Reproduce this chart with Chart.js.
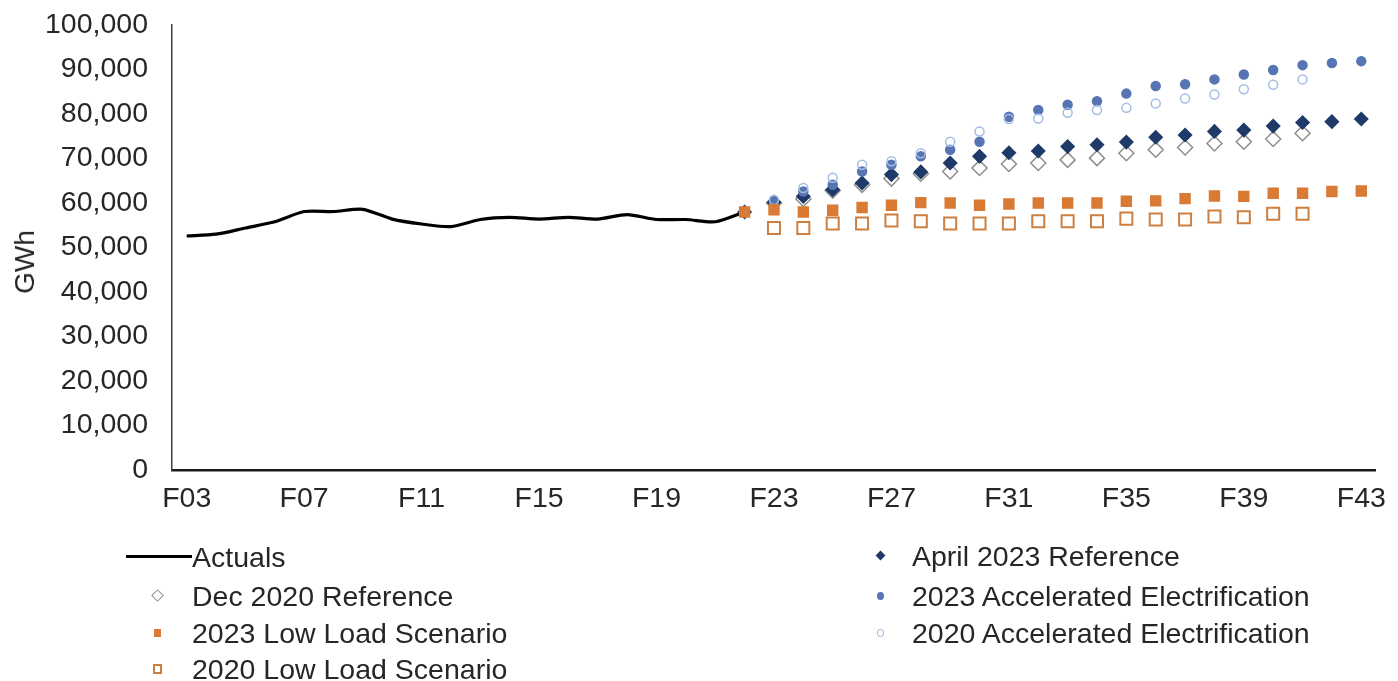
<!DOCTYPE html>
<html lang="en">
<head>
    <meta charset="UTF-8">
    <title>Load Forecast Comparison</title>
    <style>
        body {
            margin: 0;
            background: #ffffff;
            font-family: "Liberation Sans", Arial, sans-serif;
            overflow: hidden;
        }
        #wrap {
            position: relative;
            width: 1398px;
            height: 681px;
            overflow: hidden;
        }
        /* canvas is shifted up so the plot top lands at y=22 despite the tick-label overhang */
        #chart {
            position: absolute;
            left: 0;
            top: -16px;
        }
        #ytitle {
            position: absolute;
            left: 25px;
            top: 262px;
            font-size: 28px;
            color: #262626;
            transform: translate(-50%, -50%) rotate(-90deg);
            white-space: nowrap;
        }
        .item {
            position: absolute;
            height: 32px;
            line-height: 32px;
            font-size: 28.5px;
            color: #262626;
            white-space: nowrap;
        }
        .mark {
            position: absolute;
            box-sizing: border-box;
        }
    </style>
</head>
<body>
    <div id="wrap">
        <canvas id="chart" width="1398" height="697"></canvas>
        <div id="ytitle">GWh</div>
        <div id="legend"></div>
    </div>

    <script src="https://cdn.jsdelivr.net/npm/chart.js"></script>
    <script>
        const years = ['F03', 'F04', 'F05', 'F06', 'F07', 'F08', 'F09', 'F10', 'F11', 'F12',
            'F13', 'F14', 'F15', 'F16', 'F17', 'F18', 'F19', 'F20', 'F21', 'F22',
            'F23', 'F24', 'F25', 'F26', 'F27', 'F28', 'F29', 'F30', 'F31', 'F32',
            'F33', 'F34', 'F35', 'F36', 'F37', 'F38', 'F39', 'F40', 'F41', 'F42', 'F43'];

        // F03 - F22
        const actuals = [52600, 53000, 54400, 55800, 58100, 58100, 58600, 56400, 55300, 54700,
            56300, 56800, 56400, 56800, 56400, 57400, 56300, 56300, 55800, 58000];

        // F22 - F43
        const april2023Ref = [58000, 60200, 61500, 63000, 64500, 66400, 67000, 69000, 70500, 71300, 71700,
            72700, 73100, 73700, 74800, 75300, 76100, 76400, 77300, 78100, 78300, 78900];
        const ae2023 = [58000, 60500, 62600, 64100, 67100, 68600, 70500, 72000, 73800, 79400, 80900,
            82100, 82900, 84600, 86300, 86700, 87800, 88900, 89900, 91000, 91500, 91900];
        const lowLoad2023 = [58000, 58500, 58000, 58400, 59000, 59500, 60100, 60000, 59500, 59800, 60000,
            60000, 60000, 60400, 60500, 61000, 61600, 61500, 62200, 62200, 62600, 62700];

        // F23 - F41
        const dec2020Ref = [60000, 60900, 62800, 64100, 65500, 66600, 67100, 67900, 68800, 69000,
            69700, 70100, 71200, 72000, 72500, 73400, 73800, 74400, 75700];
        const ae2020 = [60700, 63400, 65700, 68600, 69400, 71200, 73800, 76100, 78900, 79000,
            80300, 80900, 81400, 82400, 83500, 84400, 85600, 86600, 87800];
        const lowLoad2020 = [54400, 54400, 55400, 55400, 56100, 55900, 55400, 55400, 55400, 55900,
            55900, 55900, 56500, 56300, 56300, 57000, 56800, 57600, 57600];

        // place a series on the full F03-F43 axis
        function onAxis(startLabel, values) {
            const out = years.map(() => null);
            const start = years.indexOf(startLabel);
            values.forEach((v, i) => { out[start + i] = v; });
            return out;
        }

        function marks(label, data, style) {
            return Object.assign({
                label: label,
                data: data,
                showLine: false,
                borderWidth: 1.5,
                pointHoverRadius: 0
            }, style);
        }

        const datasets = [
            {
                label: 'Actuals',
                data: onAxis('F03', actuals),
                borderColor: '#000000',
                borderWidth: 3.2,
                pointRadius: 0,
                tension: 0.25,
                order: 7
            },
            marks('April 2023 Reference', onAxis('F22', april2023Ref), {
                pointStyle: 'rectRot', pointRadius: 6.5,
                backgroundColor: '#1f3a68', borderColor: '#1f3a68', order: 3
            }),
            marks('Dec 2020 Reference', onAxis('F23', dec2020Ref), {
                pointStyle: 'rectRot', pointRadius: 7.5,
                backgroundColor: 'rgba(255,255,255,0)', borderColor: '#8e8e8e', order: 4
            }),
            marks('2023 Accelerated Electrification', onAxis('F22', ae2023), {
                pointStyle: 'circle', pointRadius: 4.5,
                backgroundColor: '#5675b2', borderColor: '#5675b2', order: 2
            }),
            marks('2023 Low Load Scenario', onAxis('F22', lowLoad2023), {
                pointStyle: 'rect', pointRadius: 7,
                backgroundColor: '#d97a35', borderColor: '#d97a35', order: 0
            }),
            marks('2020 Accelerated Electrification', onAxis('F23', ae2020), {
                pointStyle: 'circle', pointRadius: 4.5,
                backgroundColor: 'rgba(255,255,255,0)', borderColor: '#a4bde4', order: 1
            }),
            marks('2020 Low Load Scenario', onAxis('F23', lowLoad2020), {
                pointStyle: 'rect', pointRadius: 8.5, borderWidth: 2,
                backgroundColor: 'rgba(255,255,255,0)', borderColor: '#cd7f3f', order: 6
            })
        ];

        const tickFont = { family: '"Liberation Sans", Arial, sans-serif', size: 28.5 };

        new Chart(document.getElementById('chart'), {
            type: 'line',
            data: { labels: years, datasets: datasets },
            options: {
                responsive: false,
                animation: false,
                events: [],
                layout: { padding: { top: 6, right: 14, bottom: 161, left: 0 } },
                plugins: {
                    legend: { display: false },
                    tooltip: { enabled: false }
                },
                scales: {
                    x: {
                        offset: true,
                        grid: { display: false, drawTicks: false },
                        border: { display: true, color: '#1a1a1a', width: 2.5 },
                        ticks: {
                            autoSkip: false,
                            maxRotation: 0,
                            padding: 12,
                            color: '#262626',
                            font: tickFont,
                            callback: (v, i) => (i % 4 === 0 ? years[i] : '')
                        },
                        afterFit: (scale) => { scale.height = 50; }
                    },
                    y: {
                        min: 0,
                        max: 100000,
                        grid: { display: false, drawTicks: false },
                        border: { display: true, color: '#404040', width: 1.5 },
                        ticks: {
                            stepSize: 10000,
                            padding: 24,
                            color: '#262626',
                            font: tickFont,
                            callback: (v) => v.toLocaleString('en-US')
                        },
                        afterFit: (scale) => { scale.width = 172; }
                    }
                }
            }
        });

        // legend laid out in two columns like the original
        const legendItems = [
            { text: 'Actuals', x: 192, y: 557, mark: 'line' },
            { text: 'Dec 2020 Reference', x: 192, y: 596, mark: 'openDiamond' },
            { text: '2023 Low Load Scenario', x: 192, y: 633, mark: 'square' },
            { text: '2020 Low Load Scenario', x: 192, y: 669, mark: 'openSquare' },
            { text: 'April 2023 Reference', x: 912, y: 556, mark: 'diamond' },
            { text: '2023 Accelerated Electrification', x: 912, y: 596, mark: 'dot' },
            { text: '2020 Accelerated Electrification', x: 912, y: 633, mark: 'openDot' }
        ];

        const markStyles = {
            line: 'left:-66px;top:14px;width:66px;height:3px;background:#000;',
            openDiamond: 'left:-39px;top:11px;width:9px;height:9px;border:1.5px solid #8e8e8e;transform:rotate(45deg);',
            square: 'left:-38px;top:12px;width:7px;height:8px;background:#d97a35;',
            openSquare: 'left:-39px;top:11px;width:9px;height:10px;border:2px solid #cd7f3f;',
            diamond: 'left:-35px;top:12px;width:7px;height:7px;background:#1f3a68;transform:rotate(45deg);',
            dot: 'left:-35px;top:12px;width:7px;height:8px;border-radius:50%;background:#5675b2;',
            openDot: 'left:-35px;top:12px;width:7px;height:8px;border-radius:50%;border:1.5px solid #a4bde4;'
        };

        const legend = document.getElementById('legend');
        legendItems.forEach(item => {
            const div = document.createElement('div');
            div.className = 'item';
            div.style.left = item.x + 'px';
            div.style.top = (item.y - 16) + 'px';
            div.textContent = item.text;
            const m = document.createElement('span');
            m.className = 'mark';
            m.style.cssText += markStyles[item.mark];
            div.appendChild(m);
            legend.appendChild(div);
        });
    </script>
</body>
</html>
